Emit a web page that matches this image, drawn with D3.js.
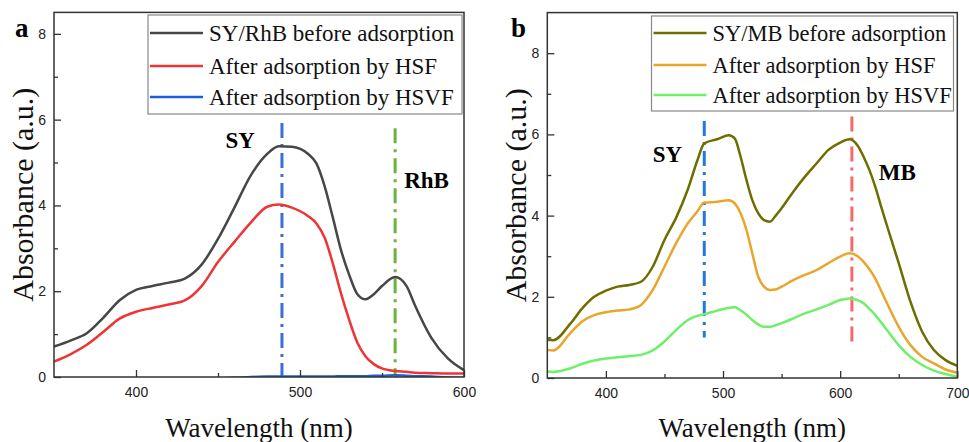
<!DOCTYPE html>
<html>
<head>
<meta charset="utf-8">
<script src="https://cdn.jsdelivr.net/npm/d3@7"></script>
<style>
  body { margin: 0; background: #fff; }
  svg { display: block; }
</style>
</head>
<body>
<svg id="chart"></svg>
<script>
var SERIF = "'Liberation Serif', 'Times New Roman', serif";
var SANS = "'Liberation Sans', Arial, sans-serif";

// panel a: SY/RhB
var wlA = [350,360,370,380,390,400,410,420,430,440,450,460,470,480,487,495,505,510,515,520,525,530,535,540,545,550,558,565,570,580,590,600];
var aBefore = [0.71,0.85,1.02,1.38,1.79,2.03,2.12,2.2,2.3,2.62,3.22,3.95,4.7,5.2,5.38,5.37,5.2,4.98,4.45,3.72,2.96,2.38,1.93,1.81,1.93,2.12,2.33,2.12,1.68,0.92,0.44,0.16];
var aHSF = [0.36,0.53,0.75,1.05,1.36,1.52,1.61,1.69,1.79,2.12,2.68,3.15,3.6,3.97,4.02,3.95,3.75,3.58,3.25,2.65,1.95,1.33,0.8,0.48,0.3,0.2,0.14,0.12,0.1,0.09,0.08,0.08];
var aHSVF = [-0.03,-0.03,-0.03,-0.03,-0.03,-0.03,-0.03,-0.03,-0.03,-0.03,-0.03,-0.02,0,0.01,0.01,0.01,0.01,0.01,0.01,0.01,0.02,0.02,0.02,0.02,0.03,0.03,0.04,0.03,0.02,0.01,-0.01,-0.02];

// panel b: SY/MB
var wlB = [350,355,370,380,390,400,410,420,430,440,450,460,470,478,484,495,505,510,515,520,525,530,535,540,545,550,560,570,580,590,600,608,615,620,625,630,635,640,650,660,670,680,690,700];
var bBefore = [0.94,0.93,1.35,1.72,2.0,2.15,2.25,2.29,2.37,2.74,3.4,3.95,4.65,5.35,5.78,5.88,5.98,5.9,5.45,4.88,4.38,4.06,3.89,3.85,4.0,4.18,4.59,4.96,5.29,5.62,5.8,5.88,5.72,5.45,5.12,4.71,4.22,3.75,2.83,1.88,1.14,0.69,0.44,0.3];
var bHSF = [0.69,0.68,1.12,1.4,1.55,1.62,1.66,1.69,1.8,2.17,2.74,3.32,3.81,4.1,4.32,4.34,4.38,4.3,4.06,3.65,3.07,2.5,2.25,2.17,2.18,2.25,2.41,2.54,2.66,2.83,2.99,3.07,3.0,2.86,2.68,2.45,2.15,1.84,1.26,0.81,0.52,0.36,0.21,0.13];
var bHSVF = [0.16,0.15,0.24,0.35,0.43,0.48,0.51,0.54,0.57,0.68,0.9,1.18,1.43,1.53,1.57,1.66,1.73,1.74,1.67,1.56,1.43,1.32,1.26,1.26,1.3,1.35,1.47,1.59,1.69,1.8,1.92,1.96,1.92,1.84,1.7,1.55,1.37,1.18,0.81,0.52,0.32,0.18,0.1,0.03];

var legendA = ["SY/RhB before adsorption","After adsorption by HSF","After adsorption by HSVF"];
var legendB = ["SY/MB before adsorption","After adsorption by HSF","After adsorption by HSVF"];
var colorsA = ["#474747","#ef3434","#1b5fd8"];
var colorsB = ["#6e6e00","#e8a72c","#6ef06a"];

var xTicksA = [400,500,600], xMinorA = [450,550];
var xTicksB = [400,500,600,700], xMinorB = [450,550,650];
var yTicks = [0,2,4,6,8], yMinor = [1,3,5,7];

// peak markers: [wavelength, top, bottom]
var marksA = [[489,5.92,0],[558,5.8,0]];
var marksB = [[484,6.33,1.0],[610,6.44,0.79]];
var markColorsA = ["#3b6fd6","#6cb33c"];
var markColorsB = ["#2277e0","#f26a6a"];

var svg = d3.select("#chart").attr("width", 969).attr("height", 442);
svg.append("rect").attr("width", 969).attr("height", 442).attr("fill", "#fff");

function drawPanel(opt) {
    var x = d3.scaleLinear().domain(opt.xDomain).range([opt.left, opt.right]);
    var y = d3.scaleLinear().domain(opt.yDomain).range([opt.bottom, opt.top]);
    var g = svg.append("g");

    // peak marker lines
    opt.marks.forEach(function(m, i) {
        g.append("line")
            .attr("x1", x(m[0])).attr("x2", x(m[0]))
            .attr("y1", y(m[1])).attr("y2", y(m[2]))
            .attr("stroke", opt.markColors[i])
            .attr("stroke-width", 3)
            .attr("stroke-dasharray", "15,6,3,6");
    });

    // curves
    var line = d3.line()
        .x(function(d) { return x(d[0]); })
        .y(function(d) { return y(d[1]); })
        .curve(d3.curveMonotoneX);
    opt.series.forEach(function(s, i) {
        g.append("path")
            .datum(opt.wl.map(function(w, k) { return [w, s[k]]; }))
            .attr("fill", "none")
            .attr("stroke", opt.colors[i])
            .attr("stroke-width", 2.5)
            .attr("d", line);
    });

    // white strip below the plot so nothing shows under the x axis
    g.append("rect")
        .attr("x", opt.left).attr("y", opt.bottom)
        .attr("width", opt.right - opt.left).attr("height", 6)
        .attr("fill", "#fff");

    // frame
    g.append("rect")
        .attr("x", opt.left).attr("y", opt.top)
        .attr("width", opt.right - opt.left).attr("height", opt.bottom - opt.top)
        .attr("fill", "none").attr("stroke", "#333").attr("stroke-width", 1.5);

    // axes (inward ticks)
    var xAxis = d3.axisBottom(x).tickValues(opt.xTicks).tickSizeInner(-7).tickSizeOuter(0).tickPadding(10);
    var xMin = d3.axisBottom(x).tickValues(opt.xMinor).tickSizeInner(-4).tickSizeOuter(0).tickFormat("");
    var yAxis = d3.axisLeft(y).tickValues(yTicks).tickSizeInner(-7).tickSizeOuter(0).tickPadding(8);
    var yMin = d3.axisLeft(y).tickValues(yMinor).tickSizeInner(-4).tickSizeOuter(0).tickFormat("");
    [[xAxis, "x"], [xMin, "x"], [yAxis, "y"], [yMin, "y"]].forEach(function(a) {
        var ag = g.append("g")
            .attr("transform", a[1] === "x" ? "translate(0," + opt.bottom + ")" : "translate(" + opt.left + ",0)")
            .call(a[0]);
        ag.select(".domain").remove();
        ag.selectAll("line").attr("stroke", "#333").attr("stroke-width", 1.3);
        ag.selectAll("text").style("font-family", SANS)
            .attr("font-size", 14).attr("fill", "#222");
    });

    // axis titles
    g.append("text")
        .style("font-family", SERIF)
        .attr("x", (opt.left + opt.right) / 2).attr("y", 437)
        .attr("text-anchor", "middle")
        .attr("font-size", 27).attr("fill", "#111")
        .text("Wavelength (nm)");
    g.append("text")
        .style("font-family", SERIF)
        .attr("transform", "translate(" + (opt.left - 21) + "," + ((opt.top + opt.bottom) / 2) + ") rotate(-90)")
        .attr("text-anchor", "middle")
        .attr("font-size", 30).attr("fill", "#111")
        .text("Absorbance (a.u.)");

    // panel letter
    g.append("text")
        .style("font-family", SERIF)
        .attr("x", opt.letterX).attr("y", 37)
        .attr("font-weight", "bold").attr("font-size", 27)
        .text(opt.letter);

    // peak labels
    opt.labels.forEach(function(l) {
        g.append("text")
            .style("font-family", SERIF)
            .attr("x", x(l[1])).attr("y", y(l[2]))
            .attr("font-weight", "bold").attr("font-size", 23)
            .text(l[0]);
    });

    // legend
    var lg = opt.legend;
    g.append("rect")
        .attr("x", lg.x).attr("y", lg.y).attr("width", lg.w).attr("height", lg.h)
        .attr("fill", "#fff").attr("stroke", "#888").attr("stroke-width", 1.2);
    opt.legendText.forEach(function(t, i) {
        var ry = lg.rows[i];
        g.append("line")
            .attr("x1", lg.x + 2).attr("x2", lg.x + 55)
            .attr("y1", ry).attr("y2", ry)
            .attr("stroke", opt.colors[i]).attr("stroke-width", 2.5);
        g.append("text")
            .style("font-family", SERIF)
            .attr("x", lg.x + 61).attr("y", ry + 8)
            .attr("font-size", lg.fs).attr("fill", "#111")
            .text(t);
    });
}

drawPanel({
    left: 54, right: 464, top: 12.4, bottom: 377,
    xDomain: [350, 600], yDomain: [0, 8.5],
    wl: wlA, series: [aBefore, aHSF, aHSVF], colors: colorsA,
    xTicks: xTicksA, xMinor: xMinorA,
    marks: marksA, markColors: markColorsA,
    letter: "a", letterX: 15,
    labels: [["SY", 454.5, 5.34], ["RhB", 563.5, 4.4]],
    legend: { x: 148, y: 15, w: 314, h: 99, rows: [33, 66, 97], fs: 23 },
    legendText: legendA
});

drawPanel({
    left: 547.3, right: 957.3, top: 12.6, bottom: 378,
    xDomain: [350, 700], yDomain: [0, 9],
    wl: wlB, series: [bBefore, bHSF, bHSVF], colors: colorsB,
    xTicks: xTicksB, xMinor: xMinorB,
    marks: marksB, markColors: markColorsB,
    letter: "b", letterX: 511,
    labels: [["SY", 440, 5.32], ["MB", 633, 4.88]],
    legend: { x: 651.5, y: 16, w: 302, h: 95, rows: [33, 65, 95], fs: 22.5 },
    legendText: legendB
});
</script>
</body>
</html>
